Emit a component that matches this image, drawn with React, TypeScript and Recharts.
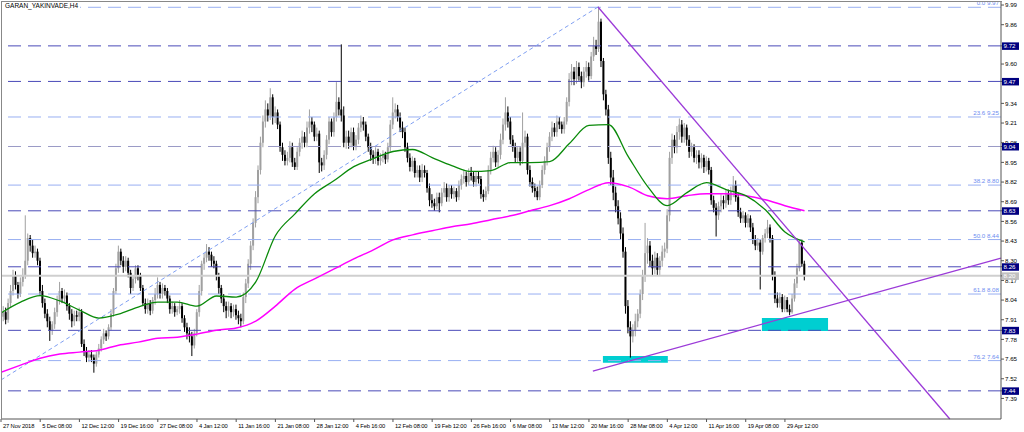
import React from "react"
import { ComposedChart, Bar, Line, XAxis, YAxis, ReferenceLine, ReferenceArea } from "recharts"

const FONT = "'Liberation Sans', Arial, sans-serif"

// one label every 16 H4 bars
const timeLabels = [
  "27 Nov 2018", "5 Dec 08:00", "12 Dec 12:00", "19 Dec 16:00", "27 Dec 08:00", "4 Jan 12:00", "11 Jan 16:00",
  "21 Jan 08:00", "28 Jan 12:00", "4 Feb 16:00", "12 Feb 08:00", "19 Feb 12:00", "26 Feb 16:00", "6 Mar 08:00",
  "13 Mar 12:00", "20 Mar 16:00", "28 Mar 08:00", "4 Apr 12:00", "11 Apr 16:00", "19 Apr 08:00", "29 Apr 12:00",
]

const opens = [
  7.90, 7.93, 7.96, 7.91, 8.02, 8.10, 8.20, 8.14, 8.08, 8.16, 8.20, 8.30, 8.45, 8.40, 8.35, 8.36,
  8.30, 8.10, 8.02, 7.95, 7.90, 7.84, 7.88, 7.96, 8.04, 8.10, 8.05, 8.07, 8.00, 7.95, 7.90, 7.94,
  7.93, 7.96, 7.75, 7.70, 7.66, 7.68, 7.66, 7.62, 7.68, 7.72, 7.78, 7.82, 7.80, 7.86, 7.95, 8.10,
  8.25, 8.36, 8.30, 8.26, 8.30, 8.22, 8.12, 8.18, 8.25, 8.20, 8.12, 8.02, 7.98, 8.02, 7.97, 8.04,
  8.08, 8.14, 8.08, 8.12, 8.10, 8.05, 7.98, 8.00, 7.96, 7.98, 8.00, 7.92, 7.86, 7.82, 7.80, 7.74,
  7.82, 7.96, 8.10, 8.28, 8.32, 8.36, 8.34, 8.30, 8.28, 8.20, 8.12, 8.05, 8.00, 7.97, 8.00, 7.96,
  7.98, 7.94, 7.92, 7.90, 8.06, 8.15, 8.28, 8.40, 8.55, 8.72, 8.90, 9.08, 9.22, 9.30, 9.26, 9.38,
  9.25, 9.28, 9.20, 9.05, 9.00, 8.96, 8.98, 9.05, 8.95, 8.92, 9.02, 9.08, 9.12, 9.08, 9.18, 9.22,
  9.20, 9.12, 9.14, 8.95, 8.93, 9.00, 9.10, 9.22, 9.15, 9.25, 9.35, 9.30, 9.26, 9.08, 9.12, 9.08,
  9.15, 9.06, 9.10, 9.18, 9.22, 9.20, 9.12, 9.05, 9.00, 8.98, 9.02, 8.96, 8.98, 9.00, 8.97, 9.05,
  9.20, 9.28, 9.30, 9.25, 9.18, 9.15, 9.05, 8.98, 8.92, 8.96, 8.88, 8.90, 8.85, 8.90, 8.88, 8.78,
  8.70, 8.68, 8.66, 8.72, 8.68, 8.75, 8.78, 8.72, 8.78, 8.74, 8.76, 8.72, 8.80, 8.84, 8.86, 8.82,
  8.88, 8.86, 8.82, 8.86, 8.84, 8.74, 8.72, 8.76, 8.90, 8.98, 9.02, 8.95, 9.00, 9.10, 9.20, 9.28,
  9.22, 9.10, 9.05, 8.98, 9.02, 8.96, 9.08, 9.12, 8.90, 8.82, 8.78, 8.76, 8.72, 8.80, 8.90, 8.96,
  9.05, 9.12, 9.18, 9.15, 9.22, 9.20, 9.17, 9.22, 9.35, 9.50, 9.55, 9.50, 9.58, 9.52, 9.48, 9.55,
  9.58, 9.52, 9.65, 9.72, 9.70, 9.88, 9.62, 9.40, 9.30, 8.98, 8.85, 8.75, 8.66, 8.58, 8.48, 8.36,
  8.00, 7.86, 7.80, 7.84, 7.90, 7.95, 8.08, 8.20, 8.35, 8.40, 8.30, 8.25, 8.32, 8.24, 8.30, 8.36,
  8.38, 8.60, 8.98, 9.10, 9.05, 9.15, 9.20, 9.12, 9.18, 9.10, 9.02, 9.05, 8.98, 9.00, 8.95, 8.98,
  8.92, 8.96, 8.90, 8.70, 8.65, 8.60, 8.66, 8.70, 8.68, 8.74, 8.70, 8.76, 8.80, 8.72, 8.62, 8.58,
  8.60, 8.55, 8.58, 8.52, 8.44, 8.40, 8.42, 8.36, 8.45, 8.48, 8.52, 8.45, 8.20, 8.05, 8.02, 8.06,
  7.98, 8.04, 7.98, 7.96, 8.05, 8.15, 8.25, 8.42, 8.28,
]

const highs = [
  7.97, 8.00, 7.99, 8.05, 8.14, 8.24, 8.23, 8.16, 8.19, 8.25, 8.60, 8.48, 8.47, 8.44, 8.40, 8.38,
  8.32, 8.14, 8.05, 7.98, 7.93, 7.90, 7.99, 8.07, 8.16, 8.12, 8.11, 8.09, 8.02, 7.98, 7.97, 7.97,
  7.99, 7.98, 7.78, 7.73, 7.71, 7.71, 7.68, 7.70, 7.75, 7.80, 7.85, 7.84, 7.88, 7.98, 8.12, 8.28,
  8.40, 8.38, 8.33, 8.33, 8.32, 8.24, 8.20, 8.27, 8.27, 8.22, 8.14, 8.05, 8.05, 8.04, 8.06, 8.12,
  8.19, 8.16, 8.15, 8.14, 8.12, 8.07, 8.03, 8.02, 8.00, 8.04, 8.02, 7.94, 7.89, 7.86, 7.83, 7.85,
  7.98, 8.14, 8.30, 8.35, 8.41, 8.39, 8.36, 8.33, 8.30, 8.22, 8.14, 8.08, 8.03, 8.03, 8.02, 8.01,
  8.01, 7.97, 7.95, 8.09, 8.18, 8.31, 8.43, 8.58, 8.76, 8.93, 9.12, 9.26, 9.36, 9.34, 9.44, 9.40,
  9.32, 9.30, 9.22, 9.08, 9.03, 9.02, 9.09, 9.08, 8.98, 9.05, 9.11, 9.16, 9.15, 9.22, 9.30, 9.25,
  9.22, 9.18, 9.16, 8.98, 9.03, 9.13, 9.25, 9.24, 9.28, 9.48, 9.38, 9.73, 9.32, 9.16, 9.16, 9.18,
  9.18, 9.13, 9.21, 9.26, 9.25, 9.22, 9.14, 9.08, 9.03, 9.05, 9.04, 9.01, 9.03, 9.02, 9.08, 9.23,
  9.38, 9.34, 9.33, 9.28, 9.22, 9.18, 9.08, 9.01, 8.99, 8.98, 8.93, 8.93, 8.94, 8.93, 8.90, 8.81,
  8.74, 8.71, 8.75, 8.75, 8.78, 8.82, 8.81, 8.80, 8.80, 8.79, 8.78, 8.83, 8.87, 8.90, 8.89, 8.91,
  8.92, 8.89, 8.89, 8.89, 8.86, 8.77, 8.79, 8.93, 9.02, 9.06, 9.05, 9.03, 9.14, 9.24, 9.38, 9.32,
  9.25, 9.13, 9.08, 9.05, 9.05, 9.28, 9.16, 9.14, 8.93, 8.85, 8.81, 8.79, 8.83, 8.93, 8.99, 9.08,
  9.15, 9.22, 9.21, 9.26, 9.25, 9.22, 9.25, 9.38, 9.54, 9.60, 9.58, 9.62, 9.61, 9.55, 9.58, 9.62,
  9.61, 9.68, 9.78, 9.76, 9.98, 9.90, 9.64, 9.43, 9.33, 9.02, 8.90, 8.79, 8.70, 8.62, 8.52, 8.39,
  8.04, 7.90, 7.88, 7.95, 7.98, 8.11, 8.24, 8.55, 8.45, 8.43, 8.34, 8.36, 8.35, 8.33, 8.40, 8.42,
  8.64, 9.02, 9.14, 9.13, 9.19, 9.24, 9.23, 9.21, 9.20, 9.13, 9.08, 9.07, 9.03, 9.03, 9.01, 9.00,
  8.99, 8.98, 8.92, 8.73, 8.68, 8.69, 8.74, 8.73, 8.77, 8.77, 8.79, 8.86, 8.83, 8.75, 8.65, 8.63,
  8.62, 8.61, 8.60, 8.55, 8.47, 8.45, 8.44, 8.47, 8.51, 8.57, 8.54, 8.47, 8.23, 8.09, 8.09, 8.08,
  8.07, 8.06, 8.01, 8.08, 8.18, 8.28, 8.44, 8.44, 8.30,
]

const lows = [
  7.86, 7.90, 7.88, 7.89, 7.99, 8.07, 8.11, 8.05, 8.06, 8.13, 8.18, 8.27, 8.36, 8.32, 8.32, 8.27,
  8.07, 7.99, 7.92, 7.86, 7.77, 7.81, 7.85, 7.93, 8.01, 8.02, 8.02, 7.97, 7.91, 7.86, 7.87, 7.90,
  7.90, 7.73, 7.67, 7.63, 7.63, 7.63, 7.56, 7.60, 7.66, 7.70, 7.75, 7.77, 7.78, 7.84, 7.93, 8.08,
  8.22, 8.27, 8.22, 8.23, 8.19, 8.08, 8.10, 8.15, 8.17, 8.10, 8.00, 7.95, 7.95, 7.94, 7.95, 8.01,
  8.05, 8.05, 8.05, 8.07, 8.02, 7.95, 7.95, 7.93, 7.94, 7.95, 7.89, 7.83, 7.78, 7.76, 7.67, 7.72,
  7.80, 7.93, 8.07, 8.24, 8.29, 8.30, 8.26, 8.25, 8.17, 8.08, 8.02, 7.96, 7.92, 7.93, 7.92, 7.93,
  7.91, 7.88, 7.86, 7.88, 8.02, 8.12, 8.24, 8.37, 8.52, 8.68, 8.87, 9.05, 9.18, 9.22, 9.23, 9.20,
  9.21, 9.17, 9.02, 8.96, 8.93, 8.93, 8.95, 8.92, 8.90, 8.90, 8.99, 9.04, 9.05, 9.05, 9.14, 9.15,
  9.09, 9.09, 8.88, 8.89, 8.90, 8.97, 9.07, 9.12, 9.12, 9.22, 9.26, 9.22, 9.05, 9.04, 9.04, 9.05,
  9.03, 9.03, 9.07, 9.15, 9.16, 9.09, 9.02, 8.96, 8.94, 8.94, 8.93, 8.93, 8.95, 8.94, 8.95, 9.02,
  9.17, 9.24, 9.22, 9.15, 9.11, 9.02, 8.95, 8.89, 8.89, 8.85, 8.85, 8.82, 8.82, 8.85, 8.75, 8.66,
  8.65, 8.63, 8.64, 8.62, 8.66, 8.72, 8.69, 8.69, 8.71, 8.71, 8.69, 8.70, 8.77, 8.81, 8.79, 8.80,
  8.83, 8.79, 8.79, 8.81, 8.71, 8.69, 8.70, 8.74, 8.87, 8.95, 8.92, 8.92, 8.97, 9.07, 9.16, 9.18,
  9.07, 9.02, 8.95, 8.95, 8.93, 8.94, 9.05, 8.87, 8.79, 8.75, 8.72, 8.70, 8.70, 8.78, 8.87, 8.93,
  9.02, 9.09, 9.12, 9.12, 9.17, 9.14, 9.14, 9.20, 9.32, 9.46, 9.46, 9.47, 9.49, 9.44, 9.45, 9.51,
  9.49, 9.50, 9.62, 9.66, 9.68, 9.58, 9.36, 9.26, 8.94, 8.80, 8.70, 8.62, 8.54, 8.44, 8.32, 7.95,
  7.82, 7.66, 7.76, 7.80, 7.86, 7.92, 8.04, 8.16, 8.28, 8.26, 8.20, 8.21, 8.20, 8.20, 8.26, 8.32,
  8.35, 8.56, 8.94, 9.01, 9.01, 9.10, 9.08, 9.08, 9.06, 8.98, 8.99, 8.95, 8.94, 8.91, 8.91, 8.88,
  8.89, 8.87, 8.67, 8.62, 8.46, 8.57, 8.62, 8.64, 8.65, 8.67, 8.67, 8.72, 8.69, 8.59, 8.55, 8.55,
  8.52, 8.52, 8.49, 8.41, 8.37, 8.37, 8.11, 8.34, 8.42, 8.45, 8.42, 8.17, 8.02, 7.99, 7.99, 7.96,
  7.96, 7.96, 7.94, 7.95, 8.03, 8.12, 8.23, 8.26, 8.17,
]

const closes = [
  7.93, 7.96, 7.91, 8.02, 8.10, 8.20, 8.14, 8.08, 8.16, 8.20, 8.30, 8.45, 8.40, 8.35, 8.36, 8.30,
  8.10, 8.02, 7.95, 7.90, 7.84, 7.88, 7.96, 8.04, 8.10, 8.05, 8.07, 8.00, 7.95, 7.90, 7.94, 7.93,
  7.96, 7.75, 7.70, 7.66, 7.68, 7.66, 7.62, 7.68, 7.72, 7.78, 7.82, 7.80, 7.86, 7.95, 8.10, 8.25,
  8.36, 8.30, 8.26, 8.30, 8.22, 8.12, 8.18, 8.25, 8.20, 8.12, 8.02, 7.98, 8.02, 7.97, 8.04, 8.08,
  8.14, 8.08, 8.12, 8.10, 8.05, 7.98, 8.00, 7.96, 7.98, 8.00, 7.92, 7.86, 7.82, 7.80, 7.74, 7.82,
  7.96, 8.10, 8.28, 8.32, 8.36, 8.34, 8.30, 8.28, 8.20, 8.12, 8.05, 8.00, 7.97, 8.00, 7.96, 7.98,
  7.94, 7.92, 7.90, 8.06, 8.15, 8.28, 8.40, 8.55, 8.72, 8.90, 9.08, 9.22, 9.30, 9.26, 9.38, 9.25,
  9.28, 9.20, 9.05, 9.00, 8.96, 8.98, 9.05, 8.95, 8.92, 9.02, 9.08, 9.12, 9.08, 9.18, 9.22, 9.20,
  9.12, 9.14, 8.95, 8.93, 9.00, 9.10, 9.22, 9.15, 9.25, 9.35, 9.30, 9.26, 9.08, 9.12, 9.08, 9.15,
  9.06, 9.10, 9.18, 9.22, 9.20, 9.12, 9.05, 9.00, 8.98, 9.02, 8.96, 8.98, 9.00, 8.97, 9.05, 9.20,
  9.28, 9.30, 9.25, 9.18, 9.15, 9.05, 8.98, 8.92, 8.96, 8.88, 8.90, 8.85, 8.90, 8.88, 8.78, 8.70,
  8.68, 8.66, 8.72, 8.68, 8.75, 8.78, 8.72, 8.78, 8.74, 8.76, 8.72, 8.80, 8.84, 8.86, 8.82, 8.88,
  8.86, 8.82, 8.86, 8.84, 8.74, 8.72, 8.76, 8.90, 8.98, 9.02, 8.95, 9.00, 9.10, 9.20, 9.28, 9.22,
  9.10, 9.05, 8.98, 9.02, 8.96, 9.08, 9.12, 8.90, 8.82, 8.78, 8.76, 8.72, 8.80, 8.90, 8.96, 9.05,
  9.12, 9.18, 9.15, 9.22, 9.20, 9.17, 9.22, 9.35, 9.50, 9.55, 9.50, 9.58, 9.52, 9.48, 9.55, 9.58,
  9.52, 9.65, 9.72, 9.70, 9.88, 9.62, 9.40, 9.30, 8.98, 8.85, 8.75, 8.66, 8.58, 8.48, 8.36, 8.00,
  7.86, 7.80, 7.84, 7.90, 7.95, 8.08, 8.20, 8.35, 8.40, 8.30, 8.25, 8.32, 8.24, 8.30, 8.36, 8.38,
  8.60, 8.98, 9.10, 9.05, 9.15, 9.20, 9.12, 9.18, 9.10, 9.02, 9.05, 8.98, 9.00, 8.95, 8.98, 8.92,
  8.96, 8.90, 8.70, 8.65, 8.60, 8.66, 8.70, 8.68, 8.74, 8.70, 8.76, 8.80, 8.72, 8.62, 8.58, 8.60,
  8.55, 8.58, 8.52, 8.44, 8.40, 8.42, 8.36, 8.45, 8.48, 8.52, 8.45, 8.20, 8.05, 8.02, 8.06, 7.98,
  8.04, 7.98, 7.96, 8.05, 8.15, 8.25, 8.42, 8.28, 8.20,
]

// moving averages read every 8th bar
const maFast = [
  7.955, 8.027, 8.07, 8.034, 7.974, 7.921, 7.947, 7.994, 8.027, 8.027, 8.0, 8.067, 8.06, 8.16,
  8.465, 8.61, 8.743, 8.83, 8.922, 8.975, 9.022, 9.035, 8.982, 8.929, 8.89, 8.896, 8.949, 8.949,
  8.955, 9.075, 9.194, 9.2, 8.99, 8.79, 8.664, 8.75, 8.816, 8.77, 8.73, 8.637, 8.49, 8.425,
]
const maSlow = [
  7.563, 7.61, 7.656, 7.683, 7.696, 7.709, 7.742, 7.762, 7.788, 7.795, 7.815, 7.841, 7.855, 7.901,
  8.0, 8.113, 8.18, 8.246, 8.312, 8.372, 8.438, 8.471, 8.498, 8.525, 8.544, 8.571, 8.597, 8.63,
  8.664, 8.71, 8.77, 8.816, 8.79, 8.73, 8.71, 8.73, 8.743, 8.743, 8.73, 8.703, 8.664, 8.63,
]

const priceTicks = [9.99, 9.86, 9.6, 9.34, 9.21, 9.08, 8.95, 8.82, 8.69, 8.56, 8.43, 8.3, 8.17, 8.04, 7.91, 7.78, 7.65, 7.52, 7.39]
const levelValues = [9.72, 9.485, 9.055, 8.63, 8.26, 7.84, 7.44]
const levelTexts = ["9.72", "9.47", "9.04", "8.63", "8.26", "7.83", "7.44"]
const fibValues = [9.975, 9.25, 8.8, 8.44, 8.08, 7.64]
const fibTexts = ["0.0 9.97", "23.6 9.25", "38.2 8.80", "50.0 8.44", "61.8 8.08", "76.2 7.64"]
const bidPrice = 8.2

// [bar1, price1, bar2, price2]
const trendDown = [243.7, 9.977, 387.3, 7.254]
const trendUp = [241.6, 7.571, 408.2, 8.318]
const fibDiagonal = [0, 7.512, 243.7, 9.977]
// [bar1, bar2, priceLow, priceHigh]
const zones = [
  [245.7, 272.2, 7.625, 7.671],
  [310.6, 337.6, 7.836, 7.922],
]

const data = closes.map((c, i) => ({
  i,
  range: [lows[i], highs[i]],
  o: opens[i],
  h: highs[i],
  l: lows[i],
  c,
  fast: i % 8 === 0 ? maFast[i / 8] : null,
  slow: i % 8 === 0 ? maSlow[i / 8] : null,
}))

const Candle = (props: any) => {
  const { x, y, width, height, payload } = props
  const { o, h, l, c } = payload
  const cx = x + width / 2
  const span = h - l || 1
  const py = (p: number) => y + ((h - p) / span) * height
  const color = c >= o ? "#a0a0a0" : "#000000"
  const top = py(Math.max(o, c))
  const bot = py(Math.min(o, c))
  return (
    <g>
      <line x1={cx} x2={cx} y1={y} y2={y + height} stroke={color} strokeWidth={1} />
      <rect x={cx - 1} y={top} width={2} height={Math.max(bot - top, 0.8)} fill={color} />
    </g>
  )
}

const XTick = (props: any) => {
  const { x, y, payload } = props
  return (
    <text x={x + 2} y={y + 4} fontSize={5.8} letterSpacing={-0.15} fontFamily={FONT} fill="#000" textAnchor="start">
      {timeLabels[Math.round(payload.value / 16)]}
    </text>
  )
}

const YTick = (props: any) => {
  const { y, payload } = props
  const v = payload.value
  const k = levelValues.indexOf(v)
  if (k >= 0 || v === bidPrice) {
    return (
      <g>
        <rect x={1002} y={y - 3.5} width={17} height={7.5} fill={k >= 0 ? "#000080" : "#c0c0c0"} />
        <text x={1003.5} y={y + 2.3} fontSize={6.2} fontFamily={FONT} fill="#fff">
          {k >= 0 ? levelTexts[k] : v.toFixed(2)}
        </text>
      </g>
    )
  }
  return (
    <text x={1005} y={y + 2.3} fontSize={6.2} fontFamily={FONT} fill="#000">
      {v.toFixed(2)}
    </text>
  )
}

export default function App() {
  return (
    <div style={{ position: "absolute", left: 0, top: 0, width: 1024, height: 432, background: "#fff" }}>
      <ComposedChart width={1024} height={432} data={data} margin={{ top: 2, right: 0, bottom: 0, left: 1 }}>
        <XAxis
          dataKey="i"
          type="number"
          domain={[0, 408.2]}
          allowDataOverflow
          ticks={timeLabels.map((_, k) => k * 16)}
          interval={0}
          height={13}
          tickSize={3}
          axisLine={{ stroke: "#555" }}
          tickLine={{ stroke: "#555" }}
          tick={XTick}
        />
        <YAxis
          orientation="right"
          type="number"
          domain={[7.254, 10.01]}
          allowDataOverflow
          ticks={[...priceTicks, bidPrice, ...levelValues]}
          interval={0}
          width={23}
          tickSize={3}
          axisLine={{ stroke: "#555" }}
          tickLine={{ stroke: "#555" }}
          tick={YTick}
        />
        {zones.map((z, k) => (
          <ReferenceArea key={"z" + k} x1={z[0]} x2={z[1]} y1={z[2]} y2={z[3]} fill="#00CED1" fillOpacity={1} stroke="none" />
        ))}
        {levelValues.map((v, k) => (
          <ReferenceLine key={"l" + k} y={v} stroke={k === 2 ? "#9a9ac6" : "#4a4ab8"} strokeDasharray="13 7" />
        ))}
        {fibValues.map((v, k) => (
          <ReferenceLine
            key={"f" + k}
            y={v}
            stroke="#98aff2"
            strokeDasharray="13 7"
            label={{ value: fibTexts[k], position: "insideBottomRight", offset: 2, fill: "#6d8df0", fontSize: 6.2, fontFamily: FONT }}
          />
        ))}
        <ReferenceLine y={bidPrice} stroke="#cfcfcf" strokeWidth={2} />
        <ReferenceLine
          segment={[{ x: fibDiagonal[0], y: fibDiagonal[1] }, { x: fibDiagonal[2], y: fibDiagonal[3] }]}
          stroke="#7f9ff2"
          strokeDasharray="4 3"
        />
        <Bar dataKey="range" barSize={2} shape={Candle} isAnimationActive={false} />
        <Line dataKey="slow" type="monotone" stroke="#ff00ff" strokeWidth={1.5} dot={false} connectNulls isAnimationActive={false} />
        <Line dataKey="fast" type="monotone" stroke="#0a8a0a" strokeWidth={1.3} dot={false} connectNulls isAnimationActive={false} />
        <ReferenceLine
          segment={[{ x: trendDown[0], y: trendDown[1] }, { x: trendDown[2], y: trendDown[3] }]}
          stroke="#9b3ad8"
          strokeWidth={1.3}
        />
        <ReferenceLine
          segment={[{ x: trendUp[0], y: trendUp[1] }, { x: trendUp[2], y: trendUp[3] }]}
          stroke="#9b3ad8"
          strokeWidth={1.3}
        />
      </ComposedChart>
      <div style={{ position: "absolute", left: 1, top: 1, width: 1000, height: 418, borderTop: "1px solid #888", borderLeft: "1px solid #888", pointerEvents: "none" }} />
      <div style={{ position: "absolute", left: 5, top: 2, fontSize: 6.5, lineHeight: "8px", fontFamily: FONT, color: "#000", background: "#fff", paddingRight: 2 }}>
        GARAN_YAKINVADE,H4
      </div>
    </div>
  )
}
